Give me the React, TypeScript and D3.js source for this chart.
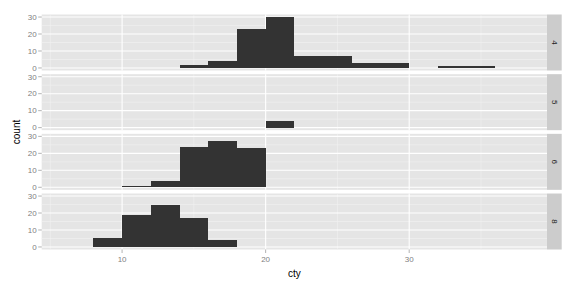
import React from "react";
import * as d3 from "d3";

const facets = ["4", "5", "6", "8"];
const binLeft = [8, 10, 12, 14, 16, 18, 20, 22, 24, 26, 28, 30, 32, 34];
const binWidth = 2;
const counts4 = [0, 0, 0, 2, 4, 23, 30, 7, 7, 3, 3, 0, 1, 1];
const counts5 = [0, 0, 0, 0, 0, 0, 4, 0, 0, 0, 0, 0, 0, 0];
const counts6 = [0, 1, 4, 24, 27, 23, 0, 0, 0, 0, 0, 0, 0, 0];
const counts8 = [5, 19, 25, 17, 4, 0, 0, 0, 0, 0, 0, 0, 0, 0];
const facetCounts = [counts4, counts5, counts6, counts8];
const xTicks = [10, 20, 30];
const xMinor = [5, 15, 25, 35];
const yTicks = [0, 10, 20, 30];
const yMinor = [5, 15, 25];

const W = 576, H = 288;
const left = 41.7, right = 547;
const stripW = 14.7;
const top = 14.5, panelH = 56, gap = 3.67;
const FONT = "'Liberation Sans', Arial, Helvetica, sans-serif";

export default function App() {
  const x = d3.scaleLinear().domain([4.4, 39.6]).range([left, right]);
  const yMax = 30;
  const y0 = d3.scaleLinear().domain([-0.05 * yMax, 1.05 * yMax]).range([panelH, 0]);
  const lastBottom = top + 4 * panelH + 3 * gap;
  return (
    <svg width={W} height={H} style={{ position: "absolute", left: 0, top: 0 }} fontFamily={FONT}>
      <rect width={W} height={H} fill="white" />
      {facets.map((f, i) => {
        const py = top + i * (panelH + gap);
        const counts = facetCounts[i];
        return (
          <g key={f} transform={`translate(0,${py})`}>
            <rect x={left} y={0} width={right - left} height={panelH} fill="#e5e5e5" />
            {xMinor.map((v) => (
              <line key={"xm" + v} x1={x(v)} x2={x(v)} y1={0} y2={panelH} stroke="#f2f2f2" strokeWidth={0.6} />
            ))}
            {yMinor.map((v) => (
              <line key={"ym" + v} x1={left} x2={right} y1={y0(v)} y2={y0(v)} stroke="#f2f2f2" strokeWidth={0.6} />
            ))}
            {xTicks.map((v) => (
              <line key={"xM" + v} x1={x(v)} x2={x(v)} y1={0} y2={panelH} stroke="white" strokeWidth={1.1} />
            ))}
            {yTicks.map((v) => (
              <line key={"yM" + v} x1={left} x2={right} y1={y0(v)} y2={y0(v)} stroke="white" strokeWidth={1.1} />
            ))}
            {binLeft.map((b, j) =>
              counts[j] > 0 ? (
                <rect
                  key={"b" + b}
                  x={x(b)}
                  width={x(b + binWidth) - x(b)}
                  y={y0(counts[j])}
                  height={y0(0) - y0(counts[j])}
                  fill="#333333"
                  shapeRendering="crispEdges"
                />
              ) : null
            )}
            {yTicks.map((v) => (
              <g key={"yt" + v}>
                <line x1={left - 3.5} x2={left} y1={y0(v)} y2={y0(v)} stroke="#7f7f7f" strokeWidth={0.6} />
                <text x={left - 5} y={y0(v)} dy="0.35em" textAnchor="end" fontSize={8} fill="#7f7f7f">
                  {v}
                </text>
              </g>
            ))}
            <rect x={right} y={0} width={stripW} height={panelH} fill="#cccccc" />
            <text
              transform={`translate(${right + stripW / 2},${panelH / 2}) rotate(90)`}
              textAnchor="middle"
              dy="0.35em"
              fontSize={8}
              fill="#1a1a1a"
            >
              {f}
            </text>
          </g>
        );
      })}
      {xTicks.map((v) => (
        <g key={"xt" + v}>
          <line x1={x(v)} x2={x(v)} y1={lastBottom} y2={lastBottom + 3.5} stroke="#7f7f7f" strokeWidth={0.6} />
          <text x={x(v)} y={lastBottom + 12.5} textAnchor="middle" fontSize={8} fill="#7f7f7f">
            {v}
          </text>
        </g>
      ))}
      <text x={(left + right) / 2} y={277} textAnchor="middle" fontSize={10} fill="black">
        cty
      </text>
      <text
        transform={`translate(16,${(top + lastBottom) / 2}) rotate(-90)`}
        textAnchor="middle"
        dy="0.35em"
        fontSize={10}
        fill="black"
      >
        count
      </text>
    </svg>
  );
}
